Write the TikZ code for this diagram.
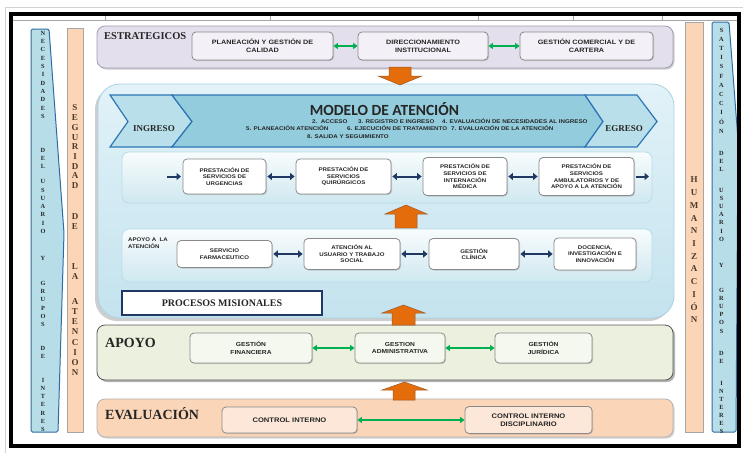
\documentclass[tikz,border=0pt]{standalone}
\usepackage{fontspec}
\setmainfont{Liberation Serif}
\newfontfamily\bxf[FakeStretch=1.15]{Liberation Sans}
\newfontfamily\calf{Carlito}
\usetikzlibrary{arrows.meta,shadows}
\definecolor{estrFill}{HTML}{E4DFEC}
\definecolor{estrDraw}{HTML}{A29CB2}
\definecolor{estrBox}{HTML}{F3F1F7}
\definecolor{boxDraw}{HTML}{8A8A8A}
\definecolor{modTop}{HTML}{E2F2F8}
\definecolor{modBot}{HTML}{C4E3EE}
\definecolor{modDraw}{HTML}{A9D3E2}
\definecolor{banMain}{HTML}{93CDDD}
\definecolor{banEnd}{HTML}{B9E0EA}
\definecolor{banDraw}{HTML}{2E75B6}
\definecolor{rowTop}{HTML}{F8FCFD}
\definecolor{rowBot}{HTML}{CFE8F0}
\definecolor{rowDraw}{HTML}{B9DCE8}
\definecolor{navy}{HTML}{1F3864}
\definecolor{grn}{HTML}{00B050}
\definecolor{apoFill}{HTML}{EBF1DE}
\definecolor{apoBox}{HTML}{F5F8EE}
\definecolor{evaFill}{HTML}{FBD5B8}
\definecolor{evaBox}{HTML}{FCE7D8}
\definecolor{peach}{HTML}{FBD5B5}
\definecolor{peachDraw}{HTML}{A6A6A6}
\definecolor{bbar}{HTML}{B7DEE8}
\definecolor{bbarDraw}{HTML}{2E6DA4}
\definecolor{orng}{HTML}{E46C0A}
\definecolor{orngDraw}{HTML}{9A5A2A}
\definecolor{txt}{HTML}{262626}
\definecolor{brownTxt}{HTML}{4E3A2C}
\newcommand\vword[6]{\foreach \vl [count=\vi from 0] in {#5} {\node[#6] (#1\vi) at (#2,{#3+\vi*#4}) {\vl};}}
\begin{document}
\begin{tikzpicture}[x=1pt,y=-1pt,
  shad/.style={drop shadow={opacity=.35, shadow xshift=1pt, shadow yshift=-1pt}},
  sbox/.style={draw=boxDraw, line width=.8pt, fill=estrBox, rounded corners=4pt, align=center, inner sep=1pt, text=txt,
     font=\bxf\bfseries\fontsize{6.3}{8}\selectfont, shad},
  wbox/.style={draw=boxDraw, line width=.8pt, fill=white, rounded corners=4pt, align=center, inner sep=1pt, text=txt,
     font=\bxf\bfseries\fontsize{5.3}{6.6}\selectfont, shad},
  abox/.style={wbox, fill=apoBox, font=\bxf\bfseries\fontsize{5.8}{7.2}\selectfont},
  ebox/.style={wbox, fill=evaBox, font=\bxf\bfseries\fontsize{6.6}{8}\selectfont},
  navyarr/.style={draw=navy, line width=2pt, {Triangle[length=4.5pt,width=7pt]}-{Triangle[length=4.5pt,width=7pt]}, shorten <=1pt, shorten >=1pt},
  navyone/.style={draw=navy, line width=2pt, -{Triangle[length=4.5pt,width=7pt]}},
  grnarr/.style={draw=grn, line width=1.3pt, {Triangle[length=4.5pt,width=6pt]}-{Triangle[length=4.5pt,width=6pt]}},
  peachbar/.style={draw=peachDraw, fill=peach, line width=.8pt},
  bluebar/.style={draw=bbarDraw, fill=bbar, line width=1pt, rounded corners=1.5pt},
  bl/.style={inner sep=0pt, text=txt, font=\bfseries\fontsize{6.3}{7}\selectfont},
  pl/.style={inner sep=0pt, text=brownTxt, font=\bfseries\fontsize{9}{10}\selectfont},
  title/.style={inner sep=0pt, text=txt, font=\bfseries},
  orange/.style={fill=orng, draw=orngDraw, line width=.5pt},
  small/.style={inner sep=0pt, anchor=base west, text=txt, font=\bxf\bfseries\fontsize{5.4}{6}\selectfont}
]
\useasboundingbox (0,0) rectangle (743,453);
\fill[white] (0,0) rectangle (743,453);
% page edge
\draw[gray!35, line width=.8pt] (5,453) -- (5,7) -- (743,7);
% top strip of table
\draw[gray!70, line width=.6pt] (13,20) -- (737,20);
\foreach \xx in {105,270,478,573,662} \draw[gray!70, line width=.6pt] (\xx,15.5) -- (\xx,20);

% side bars
\draw[bluebar] (31,29) -- (49,29) -- (64,233) -- (58,432) -- (31,432) -- cycle;
\draw[peachbar] (67,28) rectangle (83,432);
\draw[peachbar] (685,22) rectangle (703,432);
\draw[bluebar] (712,22) -- (729,22) -- (738,140) -- (736,432) -- (712,432) -- cycle;

\vword{nA}{43}{33.3}{8.3}{N,E,C,E,S,I,D,A,D,E,S}{bl}
\vword{nB}{43}{150}{8.3}{D,E,L}{bl}
\vword{nC}{43}{181.7}{8.3}{U,S,U,A,R,I,O}{bl}
\vword{nD}{43}{258.3}{8.3}{Y}{bl}
\vword{nE}{43}{283.3}{8.3}{G,R,U,P,O,S}{bl}
\vword{nF}{43}{348.3}{8.3}{D,E}{bl}
\vword{nG}{43}{380}{8.3}{I,N,T,E,R,E,S}{bl}

\vword{sA}{75}{108}{9.7}{S,E,G,U,R,I,D,A,D}{pl}
\vword{sB}{75}{216.7}{9.7}{D,E}{pl}
\vword{sC}{75}{266.7}{9.7}{L,A}{pl}
\vword{sD}{75}{301.7}{10.1}{A,T,E,N,C,I,O,N}{pl}

\vword{hA}{694}{180}{12.7}{H,U,M,A,N,I,Z,A,C,I,Ó,N}{pl}

\vword{tA}{721.5}{30}{9.2}{S,A,T,I,S,F,A,C,C,I,Ó,N}{bl}
\vword{tB}{721.5}{153.3}{8.2}{D,E,L}{bl}
\vword{tC}{721.5}{190}{8.2}{U,S,U,A,R,I,O}{bl}
\vword{tD}{721.5}{265}{8.2}{Y}{bl}
\vword{tE}{721.5}{290}{8.2}{G,R,U,P,O,S}{bl}
\vword{tF}{721.5}{353.3}{8.2}{D,E}{bl}
\vword{tG}{721.5}{383.3}{8.1}{I,N,T,E,R,E,S}{bl}

% ESTRATEGICOS
\node[draw=estrDraw, fill=estrFill, line width=.8pt, rounded corners=8pt, minimum width=576pt, minimum height=42pt,
      drop shadow={opacity=.4, shadow xshift=1.5pt, shadow yshift=-1.5pt}] (pS) at (385,47) {};
\node[title, anchor=base west, font=\bfseries\fontsize{10.5}{12}\selectfont] (tS) at (104,39) {ESTRATEGICOS};
\node[sbox, minimum width=141pt, minimum height=28pt] (pl1) at (262.5,46) {PLANEACIÓN Y GESTIÓN DE\\CALIDAD};
\node[sbox, minimum width=130pt, minimum height=28pt] (di1) at (423,46) {DIRECCIONAMIENTO\\INSTITUCIONAL};
\node[sbox, minimum width=133pt, minimum height=28pt] (gc1) at (586.5,46) {GESTIÓN COMERCIAL Y DE\\CARTERA};
\draw[grnarr] (pl1) -- (di1);
\draw[grnarr] (di1) -- (gc1);

% MODELO panel
\node[draw=modDraw, top color=modTop, bottom color=modBot, line width=.8pt, rounded corners=22pt,
      minimum width=576pt, minimum height=234pt,
      drop shadow={opacity=.55, shadow xshift=-3pt, shadow yshift=-3pt, fill=gray!70}] (pM) at (386,201) {};

% down arrow from estrategicos
\draw[orange] (389,67) -- (411,67) -- (411,76) -- (422,76) -- (400,85) -- (378,76) -- (389,76) -- cycle;

% banner
\draw[fill=banEnd, draw=banDraw, line width=1.2pt, line join=miter] (110,95) -- (172,95) -- (192,121.5) -- (172,147) -- (110,147) -- (128,121.5) -- cycle;
\draw[fill=banMain, draw=banDraw, line width=1.2pt, line join=miter] (172,95) -- (585,95) -- (603,121.5) -- (585,147) -- (172,147) -- (192,121.5) -- cycle;
\draw[fill=banEnd, draw=banDraw, line width=1.2pt, line join=miter] (585,95) -- (637,95) -- (657,121.5) -- (637,147) -- (585,147) -- (603,121.5) -- cycle;
\node[title, anchor=base, font=\bfseries\fontsize{9}{10}\selectfont] (ing) at (154,131.5) {INGRESO};
\node[title, anchor=base, font=\bfseries\fontsize{9}{10}\selectfont] (egr) at (624,131.5) {EGRESO};
\node[title, anchor=base, font=\calf\bfseries\fontsize{15.5}{17}\selectfont] (mt) at (384.5,115) {MODELO DE ATENCIÓN};
\node[small] (m2) at (312,123) {2.\ \ ACCESO};
\node[small] (m3) at (358,123) {3. REGISTRO E INGRESO};
\node[small] (m4) at (442,123) {4. EVALUACIÓN DE NECESIDADES AL INGRESO};
\node[small] (m5) at (246,130.5) {5. PLANEACIÓN ATENCIÓN};
\node[small] (m6) at (347,130.5) {6. EJECUCIÓN DE TRATAMIENTO};
\node[small] (m7) at (451,130.5) {7. EVALUACIÓN DE LA ATENCIÓN};
\node[small] (m8) at (307,138) {8. SALIDA Y SEGUIMIENTO};

% row 1
\node[draw=rowDraw, top color=rowTop, bottom color=rowBot, line width=.8pt, rounded corners=7pt,
      minimum width=530pt, minimum height=51pt] (pR1) at (387,177.5) {};
\node[wbox, minimum width=83pt, minimum height=35pt] (u1) at (224.5,176.5) {PRESTACIÓN DE\\SERVICIOS DE\\URGENCIAS};
\node[wbox, minimum width=95pt, minimum height=35pt] (u2) at (343.5,176.5) {PRESTACIÓN DE\\SERVICIOS\\QUIRÚRGICOS};
\node[wbox, minimum width=84pt, minimum height=38pt] (u3) at (465,176.5) {PRESTACIÓN DE\\SERVICIOS DE\\INTERNACIÓN\\MÉDICA};
\node[wbox, minimum width=95pt, minimum height=38pt] (u4) at (586.5,176.5) {PRESTACIÓN DE\\SERVICIOS\\AMBULATORIOS Y DE\\APOYO A LA ATENCIÓN};
\coordinate (r1a) at (167,176.5);
\coordinate (r1b) at (181,176.5);
\coordinate (r1c) at (649,176.5);
\draw[navyone] (r1a) -- (r1b);
\draw[navyarr] (u1) -- (u2);
\draw[navyarr] (u2) -- (u3);
\draw[navyarr] (u3) -- (u4);
\draw[navyone] ([xshift=1.5pt]u4.east) -- (r1c);

% up arrow between rows
\draw[orange] (395,228) -- (395,214) -- (385,214) -- (406,205) -- (427,214) -- (417,214) -- (417,228) -- cycle;

% row 2
\node[draw=rowDraw, top color=rowTop, bottom color=rowBot, line width=.8pt, rounded corners=7pt,
      minimum width=530pt, minimum height=53pt] (pR2) at (387,255.5) {};
\node[inner sep=0pt, anchor=north west, align=left, text=txt, font=\bxf\bfseries\fontsize{5.3}{7}\selectfont] (apa) at (128,237.5) {APOYO A \ LA\\ATENCIÓN};
\node[wbox, minimum width=95pt, minimum height=27pt] (f1) at (224.5,254) {SERVICIO\\FARMACEUTICO};
\node[wbox, minimum width=96pt, minimum height=31pt] (f2) at (352,254) {ATENCIÓN AL\\USUARIO Y TRABAJO\\SOCIAL};
\node[wbox, minimum width=90pt, minimum height=31pt] (f3) at (474,254) {GESTIÓN\\CLÍNICA};
\node[wbox, minimum width=82pt, minimum height=32pt] (f4) at (595,254) {DOCENCIA,\\INVESTIGACIÓN E\\INNOVACIÓN};
\draw[navyarr] (f1) -- (f2);
\draw[navyarr] (f2) -- (f3);
\draw[navyarr] (f3) -- (f4);

% procesos misionales
\node[draw=navy, line width=1.8pt, fill=white, minimum width=200pt, minimum height=24pt, inner sep=0pt,
      font=\bfseries\fontsize{10}{12}\selectfont, text=txt] (pm) at (222,303) {PROCESOS MISIONALES};

% APOYO
\node[draw=gray!70!black, fill=apoFill, line width=.8pt, rounded corners=8pt, minimum width=576pt, minimum height=55pt,
      drop shadow={opacity=.6, shadow xshift=2pt, shadow yshift=-2pt}] (pA) at (385,352.5) {};
\draw[orange] (392,325) -- (392,313) -- (382,313) -- (403.5,305) -- (425,313) -- (415,313) -- (415,325) -- cycle;
\node[title, anchor=base west, font=\bfseries\fontsize{14}{16}\selectfont] (tA) at (105,347) {APOYO};
\node[abox, minimum width=122pt, minimum height=30pt] (a1) at (251,348) {GESTIÓN\\FINANCIERA};
\node[abox, minimum width=90pt, minimum height=30pt] (a2) at (400,348) {GESTION\\ADMINISTRATIVA};
\node[abox, minimum width=97pt, minimum height=30pt] (a3) at (543.5,348) {GESTIÓN\\JURÍDICA};
\draw[grnarr] (a1) -- (a2);
\draw[grnarr] (a2) -- (a3);

% EVALUACION
\node[draw=gray!60, fill=evaFill, line width=.8pt, rounded corners=8pt, minimum width=576pt, minimum height=38pt,
      drop shadow={opacity=.35, shadow xshift=1.5pt, shadow yshift=-1.5pt}] (pE) at (385,418) {};
\draw[orange] (393,400) -- (393,390) -- (382,390) -- (404.5,382) -- (427,390) -- (415,390) -- (415,400) -- cycle;
\node[title, anchor=base west, font=\bfseries\fontsize{14}{16}\selectfont] (tE) at (105,419) {EVALUACIÓN};
\node[ebox, minimum width=135pt, minimum height=26pt] (e1) at (289.5,420) {CONTROL INTERNO};
\node[ebox, minimum width=127pt, minimum height=27pt] (e2) at (528.5,420) {CONTROL INTERNO\\DISCIPLINARIO};
\draw[grnarr] (e1) -- (e2);

% frame
\draw[line width=3.5pt] (11,14) rectangle (739,446);
\end{tikzpicture}
\end{document}
